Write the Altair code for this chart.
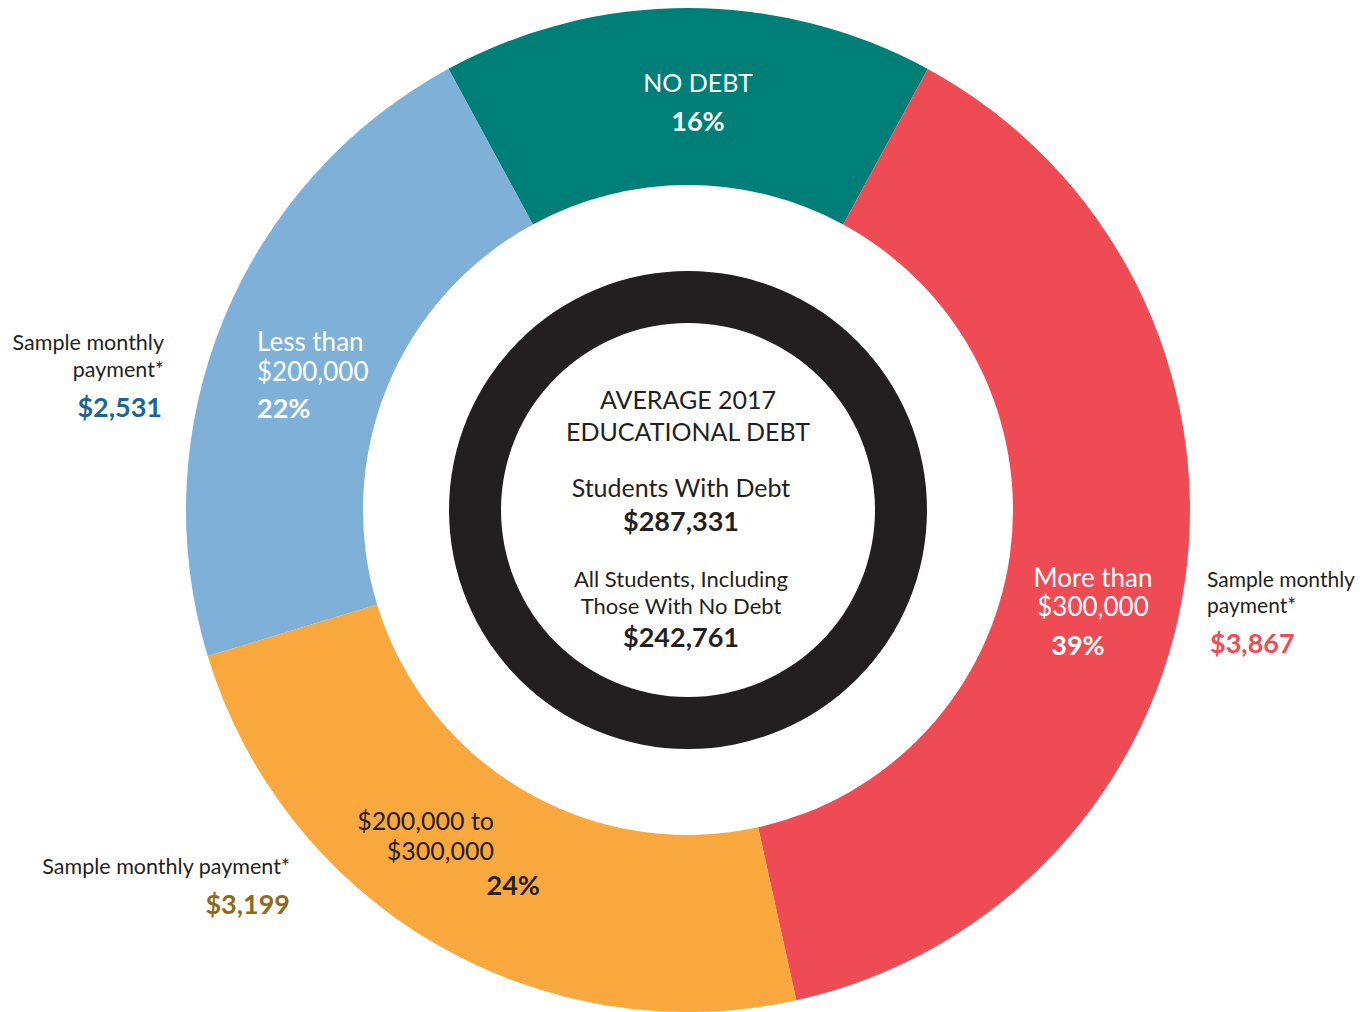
import altair as alt
import pandas as pd
import math

# ---- data ----
categories = ["No debt", "More than $300,000", "$200,000 to $300,000", "Less than $200,000"]
percents = [16, 39, 24, 22]
seg_colors = ["#007f78", "#ef4b55", "#f9a83e", "#7fb0d8"]
payments = ["$2,531", "$3,867", "$3,199"]
center_lines = ["AVERAGE 2017", "EDUCATIONAL DEBT", "Students With Debt", "$287,331",
                "All Students, Including", "Those With No Debt", "$242,761"]

df = pd.DataFrame({"category": categories, "percent": percents, "order": list(range(len(categories)))})

FONT = "Lato"
CX, CY = 680, 502
start = -28.5 * math.pi / 180

donut = alt.Chart(df).mark_arc(radius=502, radius2=325, stroke=None).encode(
    theta=alt.Theta("percent:Q", stack=True, scale=alt.Scale(range=[start, start + 2 * math.pi])),
    color=alt.Color("category:N", scale=alt.Scale(domain=categories, range=seg_colors), legend=None),
    order=alt.Order("order:Q"),
    x=alt.value(CX),
    y=alt.value(CY),
)

ring = alt.Chart(alt.Data(values=[{}])).mark_arc(
    radius=239, radius2=187, color="#231f20", theta=0, theta2=2 * math.pi
).encode(x=alt.value(CX), y=alt.value(CY))


def txt(s, x, y, size=24, color="#231f20", bold=False, align="center"):
    return alt.Chart(alt.Data(values=[{}])).mark_text(
        font=FONT, fontSize=size, color=color, fontWeight="bold" if bold else "normal",
        align=align, baseline="middle"
    ).encode(text=alt.value(s), x=alt.value(x - 8), y=alt.value(y - 8))


W = "white"
SS = 21.5
layers = [donut, ring]
# NO DEBT
layers += [txt("NO DEBT", 698, 84, 25, W), txt(f"{percents[0]}%", 698, 123, 27, W, True)]
# Less than
layers += [txt("Less than", 257, 343, 26, W, align="left"),
           txt("$200,000", 257, 373, 26, W, align="left"),
           txt(f"{percents[3]}%", 257, 410, 27, W, True, align="left")]
layers += [txt("Sample monthly", 164, 344, SS, align="right"),
           txt("payment*", 164, 371, SS, align="right"),
           txt(payments[0], 162, 409, 27, "#1a6496", True, align="right")]
# More than
layers += [txt("More than", 1093, 579, 26, W), txt("$300,000", 1093, 608, 26, W),
           txt(f"{percents[1]}%", 1078, 647, 27, W, True)]
layers += [txt("Sample monthly", 1207, 581, 21, align="left"),
           txt("payment*", 1207, 607, 21, align="left"),
           txt(payments[1], 1210, 645, 27, "#ef4b55", True, align="left")]
# 200k-300k
layers += [txt("$200,000 to", 494, 822, 25, align="right"),
           txt("$300,000", 494, 852, 25, align="right"),
           txt(f"{percents[2]}%", 540, 887, 27, "#231f20", True, align="right")]
layers += [txt("Sample monthly payment*", 290, 868, SS, align="right"),
           txt(payments[2], 290, 906, 27, "#8f6a1a", True, align="right")]
# center
layers += [txt(center_lines[0], 688, 401, 25), txt(center_lines[1], 688, 433, 25),
           txt(center_lines[2], 681, 489, 25), txt(center_lines[3], 681, 523, 27, bold=True),
           txt(center_lines[4], 681, 580, 22), txt(center_lines[5], 681, 607, 22),
           txt(center_lines[6], 681, 639, 27, bold=True)]

chart = alt.layer(*layers).properties(
    width=1352, height=1004, padding=0, autosize=alt.AutoSizeParams(type="none")
).configure_view(stroke=None)

chart.save("out.html", embed_options={"renderer": "svg", "actions": False})
